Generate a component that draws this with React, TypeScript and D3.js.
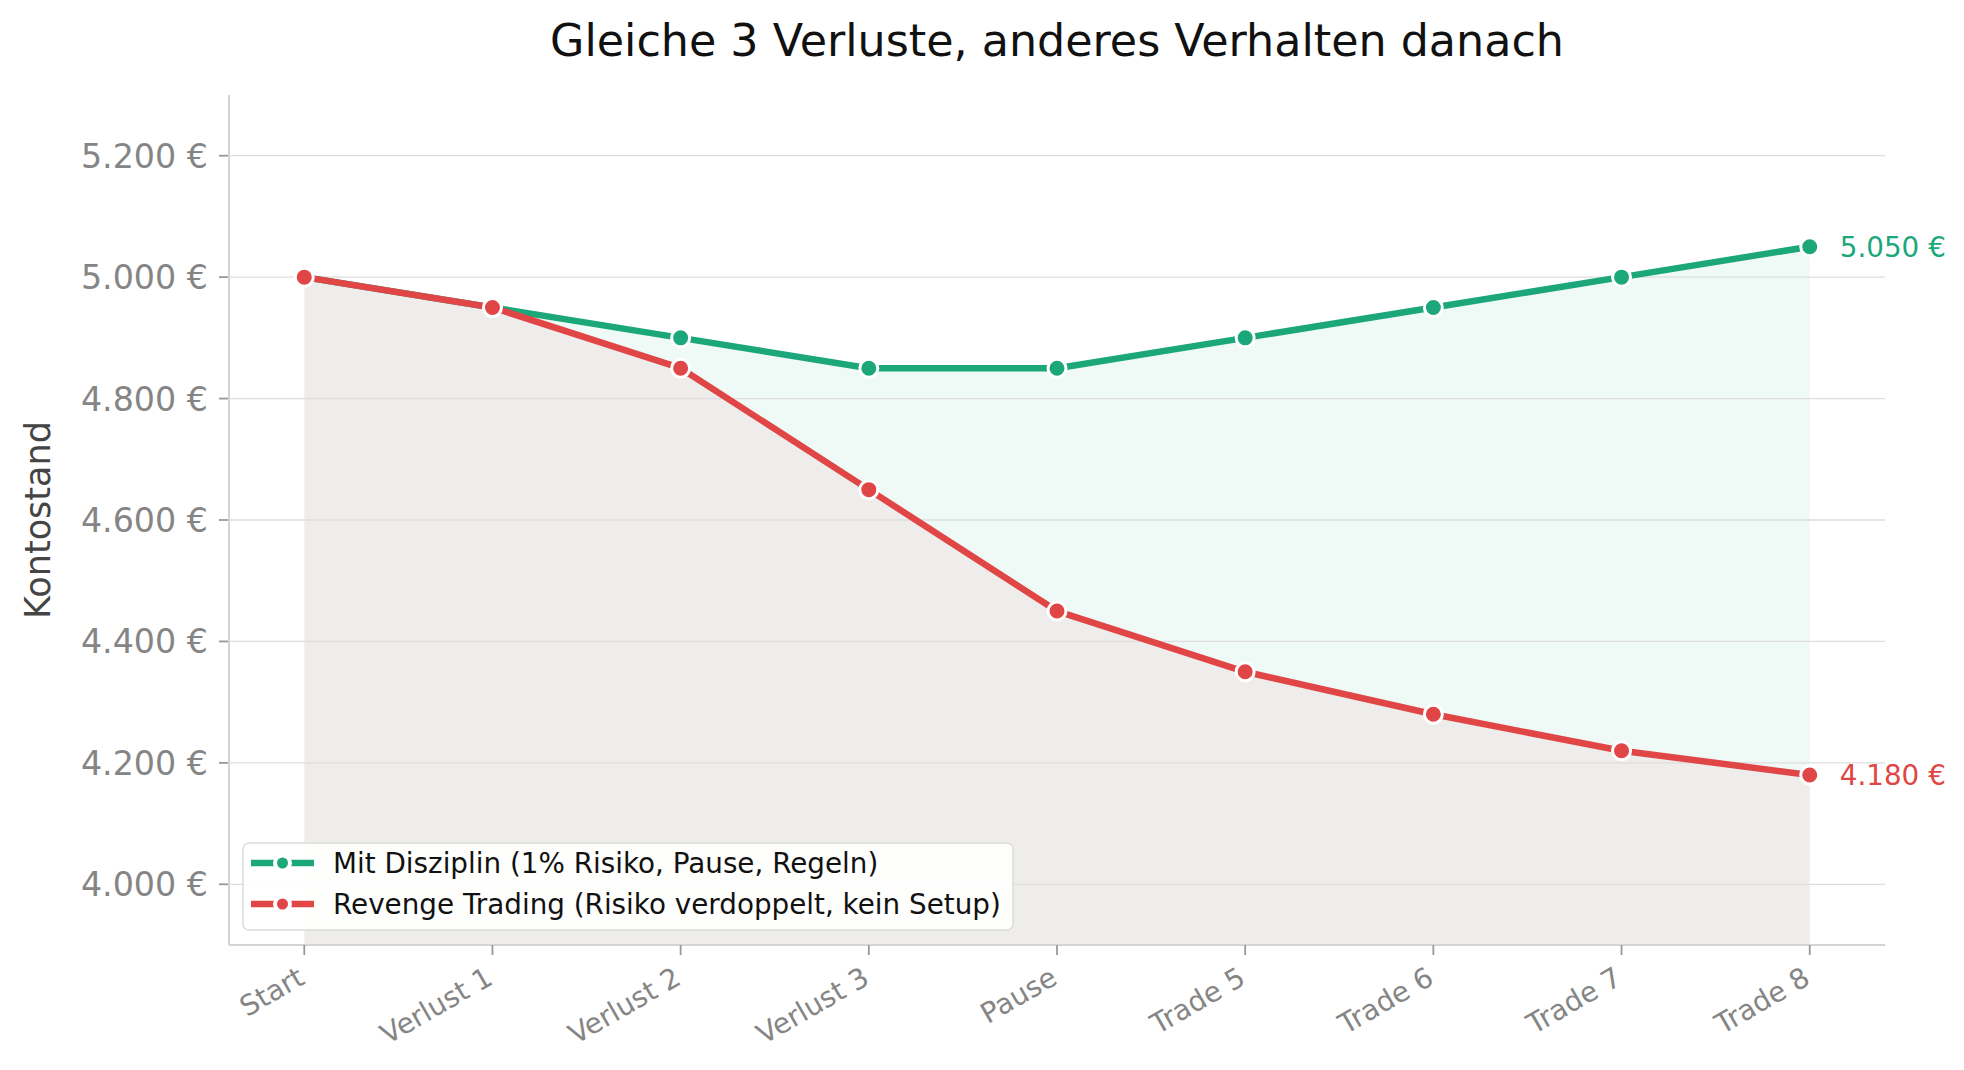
import React from 'react';
import * as d3 from 'd3';

const steps = ['Start', 'Verlust 1', 'Verlust 2', 'Verlust 3', 'Pause', 'Trade 5', 'Trade 6', 'Trade 7', 'Trade 8'];
const disziplin = [5000, 4950, 4900, 4850, 4850, 4900, 4950, 5000, 5050];
const revenge = [5000, 4950, 4850, 4650, 4450, 4350, 4280, 4220, 4180];
const yTicks = [4000, 4200, 4400, 4600, 4800, 5000, 5200];
const seriesNames = ['Mit Disziplin (1% Risiko, Pause, Regeln)', 'Revenge Trading (Risiko verdoppelt, kein Setup)'];

const W = 1964;
const H = 1070;
const margin = { top: 95, right: 79, bottom: 125, left: 229 };
const GREEN = '#1ca77a';
const RED = '#e04646';
const FONT = 'DejaVu Sans, sans-serif';

const euro = (v: number) => d3.format(',.0f')(v).replace(/,/g, '.') + ' €';

const App: React.FC = () => {
  const x = d3.scaleLinear().domain([-0.4, steps.length - 1 + 0.4]).range([margin.left, W - margin.right]);
  const y = d3.scaleLinear().domain([3900, 5300]).range([H - margin.bottom, margin.top]);
  const y0 = y.domain()[0];

  const line = d3.line<number>().x((_, i) => x(i)).y(d => y(d));

  // area between the two accounts
  const gap = d3.area<number>()
    .x((_, i) => x(i))
    .y0((_, i) => y(revenge[i]))
    .y1(d => y(d));

  // area below revenge line
  const below = d3.area<number>()
    .x((_, i) => x(i))
    .y0(() => y(y0))
    .y1(d => y(d));

  const bottom = H - margin.bottom;
  const series = [
    { name: seriesNames[0], values: disziplin, color: GREEN },
    { name: seriesNames[1], values: revenge, color: RED },
  ];

  const legendX = 243;
  const legendY = 843;

  return (
    <svg width={W} height={H} style={{ position: 'absolute', left: 0, top: 0, background: '#fff' }} fontFamily={FONT}>
      <text x={(margin.left + W - margin.right) / 2} y={56} textAnchor="middle" fontSize={44.4} fill="#111">
        Gleiche 3 Verluste, anderes Verhalten danach
      </text>

      <path d={below(revenge) as string} fill="#efedeb" />
      <path d={gap(disziplin) as string} fill={GREEN} fillOpacity={0.07} />

      {yTicks.map(t => (
        <g key={t}>
          <line x1={margin.left} x2={W - margin.right} y1={y(t)} y2={y(t)} stroke="#dedede" strokeWidth={1.3} />
          <line x1={margin.left - 10} x2={margin.left} y1={y(t)} y2={y(t)} stroke="#999" strokeWidth={1.8} />
          <text x={margin.left - 21} y={y(t)} dy="0.36em" textAnchor="end" fontSize={33.3} fill="#858585">
            {euro(t)}
          </text>
        </g>
      ))}

      <line x1={margin.left} x2={margin.left} y1={margin.top} y2={bottom} stroke="#d4d4d4" strokeWidth={2} />
      <line x1={margin.left} x2={W - margin.right} y1={bottom} y2={bottom} stroke="#d4d4d4" strokeWidth={2} />

      {steps.map((s, i) => (
        <g key={s}>
          <line x1={x(i)} x2={x(i)} y1={bottom} y2={bottom + 10} stroke="#999" strokeWidth={1.8} />
          <text
            transform={`translate(${x(i) + 2},${bottom + 38}) rotate(-30)`}
            textAnchor="end"
            fontSize={28}
            fill="#858585"
          >
            {s}
          </text>
        </g>
      ))}

      <text transform={`translate(50,${(margin.top + bottom) / 2}) rotate(-90)`} textAnchor="middle" fontSize={35} fill="#444">
        Kontostand
      </text>

      {series.map(s => (
        <g key={s.name}>
          <path d={line(s.values) as string} fill="none" stroke={s.color} strokeWidth={6.5} strokeLinejoin="round" strokeLinecap="round" />
          {s.values.map((v, i) => (
            <circle key={i} cx={x(i)} cy={y(v)} r={9} fill={s.color} stroke="#fff" strokeWidth={3} />
          ))}
          <text x={x(s.values.length - 1) + 30} y={y(s.values[s.values.length - 1])} dy="0.36em" fontSize={27.8} fill={s.color}>
            {euro(s.values[s.values.length - 1])}
          </text>
        </g>
      ))}

      <g transform={`translate(${legendX},${legendY})`}>
        <rect x={0} y={0} width={770} height={87} rx={6} fill="#fff" fillOpacity={0.9} stroke="#dcdcdc" strokeWidth={1.5} />
        {series.map((s, i) => (
          <g key={s.name} transform={`translate(0,${20 + i * 41})`}>
            <line x1={8} x2={71} y1={0} y2={0} stroke={s.color} strokeWidth={6.5} />
            <circle cx={39.5} cy={0} r={7.5} fill={s.color} stroke="#fff" strokeWidth={4} />
            <text x={90} y={0} dy="0.36em" fontSize={27.8} fill="#111">
              {s.name}
            </text>
          </g>
        ))}
      </g>
    </svg>
  );
};

export default App;
